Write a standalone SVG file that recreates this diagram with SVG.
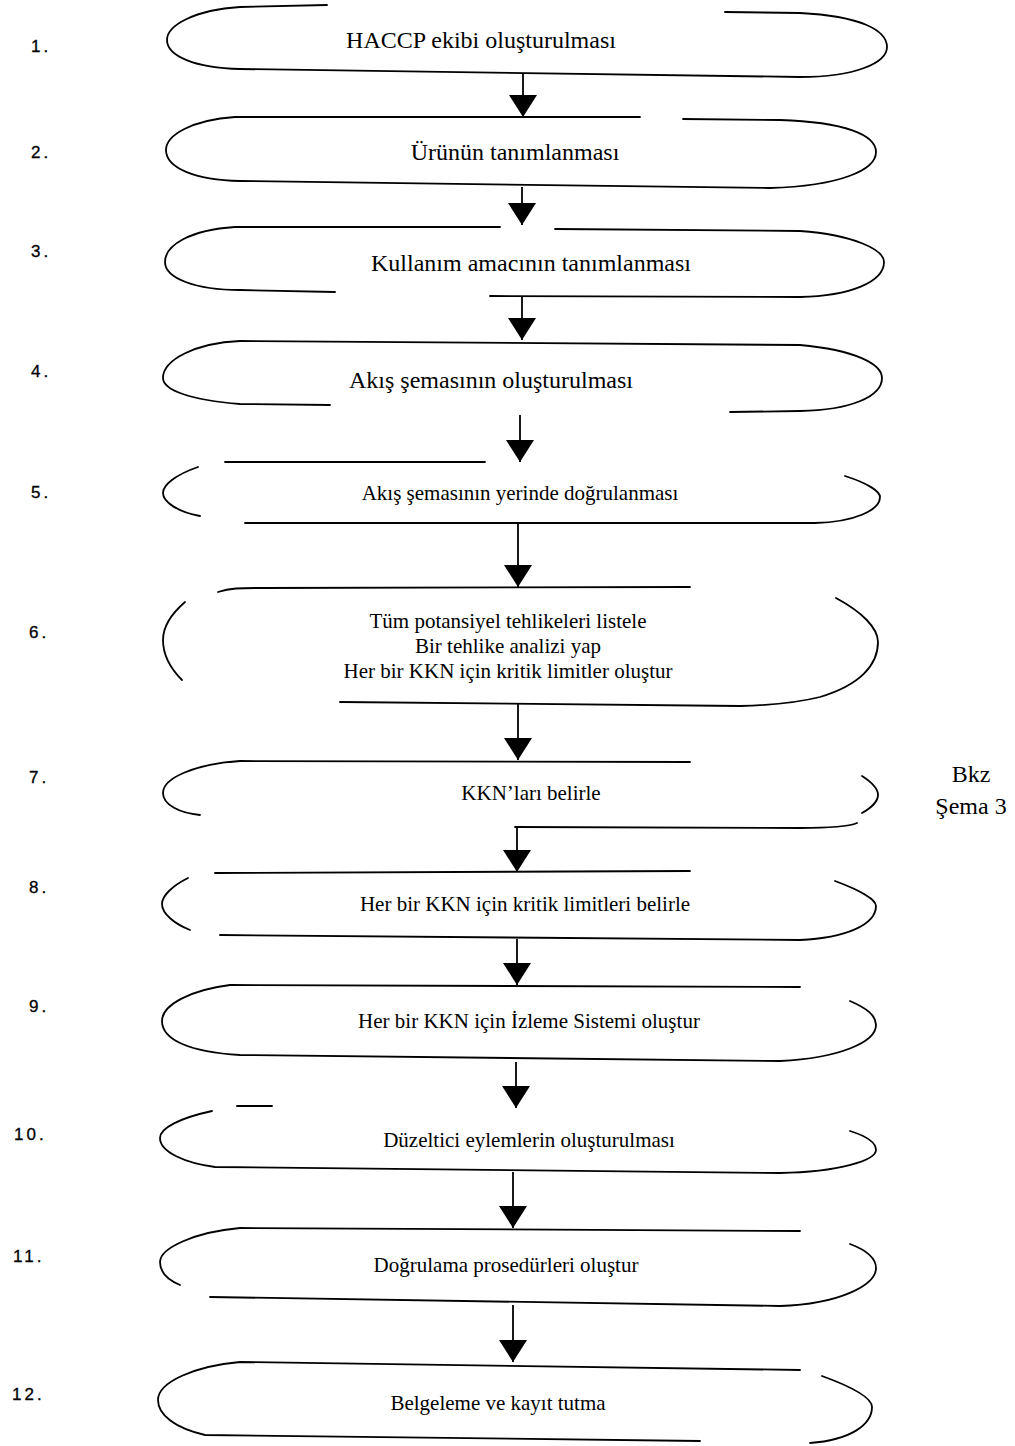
<svg xmlns="http://www.w3.org/2000/svg" width="1015" height="1446" viewBox="0 0 1015 1446">
<style>
.s{fill:none;stroke:#000;stroke-width:1.8;stroke-linecap:round}
.t{font-family:"Liberation Serif","Times New Roman",serif;fill:#000;text-anchor:middle}
.big{font-size:24px}
.sm{font-size:21px}
.n{font-family:"Liberation Sans",Arial,sans-serif;font-size:17px;letter-spacing:3px;fill:#000;stroke:#000;stroke-width:0.3}
.c{stroke:#000;stroke-width:1.8;fill:none}
</style>
<defs>
<marker id="arr" viewBox="0 0 22 28" refX="22" refY="14" markerWidth="22" markerHeight="28" markerUnits="userSpaceOnUse" orient="auto">
<path d="M0,0 L22,14 L0,28 z" fill="#000"/>
</marker>
</defs>
<rect width="1015" height="1446" fill="#fff"/>

<g id="labels">
<text class="n" x="31" y="52">1.</text>
<text class="n" x="31" y="158">2.</text>
<text class="n" x="31" y="257">3.</text>
<text class="n" x="31" y="377">4.</text>
<text class="n" x="31" y="498">5.</text>
<text class="n" x="29" y="638">6.</text>
<text class="n" x="29" y="783">7.</text>
<text class="n" x="29" y="893">8.</text>
<text class="n" x="29" y="1012">9.</text>
<text class="n" x="14" y="1140">10.</text>
<text class="n" x="13" y="1262">11.</text>
<text class="n" x="12" y="1400">12.</text>
</g>

<g id="node1">
<path class="s" d="M327 5 L240 7 C195 10 167 25 167 40 C167 56 195 68 240 69 L800 77 C855 77 887 63 887 47 C887 30 860 16 800 13 L725 12"/>
<text class="t big" x="481" y="48">HACCP ekibi oluşturulması</text>
</g>

<g id="node2">
<path class="s" d="M640 117 L235 117 C192 120 166 135 166 150 C166 168 195 180 240 181 L770 188 C840 186 876 170 876 152 C876 135 845 122 780 120 L683 119"/>
<text class="t big" x="515" y="160">Ürünün tanımlanması</text>
</g>

<g id="node3">
<path class="s" d="M500 227 L235 227 C190 230 165 245 165 262 C165 278 195 290 240 290 L335 292"/>
<path class="s" d="M555 229 L800 231 C855 235 884 250 884 262 C884 282 850 296 800 297 L490 296"/>
<text class="t big" x="531" y="271">Kullanım amacının tanımlanması</text>
</g>

<g id="node4">
<path class="s" d="M330 405 L240 404 C190 400 163 390 163 378 C163 360 195 343 240 341 L800 345 C855 350 882 364 882 378 C882 397 850 410 800 411 L730 412"/>
<text class="t big" x="491" y="388">Akış şemasının oluşturulması</text>
</g>

<g id="node5">
<path class="s" d="M225 462 L485 462"/>
<path class="s" d="M198 467 C175 475 163 485 163 493 C163 502 178 512 200 516"/>
<path class="s" d="M845 476 C870 484 880 492 880 497 C880 510 855 522 815 523 L245 523"/>
<text class="t sm" x="520" y="500">Akış şemasının yerinde doğrulanması</text>
</g>

<g id="node6">
<path class="s" d="M218 592 C230 588 240 588 260 588 L690 587"/>
<path class="s" d="M185 602 C170 615 163 628 163 640 C163 655 170 668 182 680"/>
<path class="s" d="M836 598 C862 612 878 628 878 642 C878 665 860 685 820 697 C800 702 780 705 740 706 L340 702"/>
<text class="t sm" x="508" y="628">Tüm potansiyel tehlikeleri listele</text>
<text class="t sm" x="508" y="653">Bir tehlike analizi yap</text>
<text class="t sm" x="508" y="678">Her bir KKN için kritik limitler oluştur</text>
</g>

<g id="node7">
<path class="s" d="M690 762 L240 761 C195 764 163 778 163 793 C163 805 180 813 200 815"/>
<path class="s" d="M862 776 C873 783 878 790 878 795 C878 800 873 807 862 813"/>
<path class="s" d="M515 827 L800 828 C830 828 850 826 857 823"/>
<text class="t sm" x="531" y="800">KKN’ları belirle</text>
</g>

<g id="node8">
<path class="s" d="M215 873 L690 871"/>
<path class="s" d="M188 878 C172 886 162 896 162 904 C162 914 175 924 190 930"/>
<path class="s" d="M835 881 C862 891 876 900 876 906 C876 925 845 938 800 940 L220 935"/>
<text class="t sm" x="525" y="911">Her bir KKN için kritik limitleri belirle</text>
</g>

<g id="node9">
<path class="s" d="M800 987 L230 985 C190 990 162 1005 162 1021 C162 1040 190 1052 240 1055 L780 1061 C840 1058 876 1042 876 1025 C876 1015 866 1008 850 1001"/>
<text class="t sm" x="529" y="1028">Her bir KKN için İzleme Sistemi oluştur</text>
</g>

<g id="node10">
<path class="s" d="M237 1106 L272 1106"/>
<path class="s" d="M212 1111 C180 1118 160 1128 160 1138 C160 1152 185 1163 215 1167 L780 1173 C840 1172 876 1160 876 1150 C876 1142 866 1136 850 1131"/>
<text class="t sm" x="529" y="1147">Düzeltici eylemlerin oluşturulması</text>
</g>

<g id="node11">
<path class="s" d="M800 1231 L240 1228 C195 1232 160 1248 160 1262 C160 1272 168 1280 180 1285"/>
<path class="s" d="M210 1297 L780 1306 C840 1304 876 1285 876 1268 C876 1258 866 1250 850 1244"/>
<text class="t sm" x="506" y="1272">Doğrulama prosedürleri oluştur</text>
</g>

<g id="node12">
<path class="s" d="M800 1370 L240 1362 C195 1366 158 1382 158 1400 C158 1415 175 1428 205 1435 L700 1441"/>
<path class="s" d="M822 1376 C855 1388 872 1398 872 1407 C872 1425 850 1440 810 1443"/>
<text class="t sm" x="498" y="1410">Belgeleme ve kayıt tutma</text>
</g>

<g id="note">
<text class="t big" x="971" y="782">Bkz</text>
<text class="t big" x="971" y="814">Şema 3</text>
</g>

<g id="connectors">
<line class="c" x1="523" y1="73" x2="523" y2="117" marker-end="url(#arr)"/>
<line class="c" x1="522" y1="187" x2="522" y2="225" marker-end="url(#arr)"/>
<line class="c" x1="522" y1="296" x2="522" y2="340" marker-end="url(#arr)"/>
<line class="c" x1="520" y1="415" x2="520" y2="462" marker-end="url(#arr)"/>
<line class="c" x1="518" y1="523" x2="518" y2="587" marker-end="url(#arr)"/>
<line class="c" x1="518" y1="704" x2="518" y2="760" marker-end="url(#arr)"/>
<line class="c" x1="517" y1="827" x2="517" y2="872" marker-end="url(#arr)"/>
<line class="c" x1="517" y1="939" x2="517" y2="985" marker-end="url(#arr)"/>
<line class="c" x1="516" y1="1062" x2="516" y2="1108" marker-end="url(#arr)"/>
<line class="c" x1="513" y1="1172" x2="513" y2="1228" marker-end="url(#arr)"/>
<line class="c" x1="513" y1="1305" x2="513" y2="1362" marker-end="url(#arr)"/>
</g>
</svg>
